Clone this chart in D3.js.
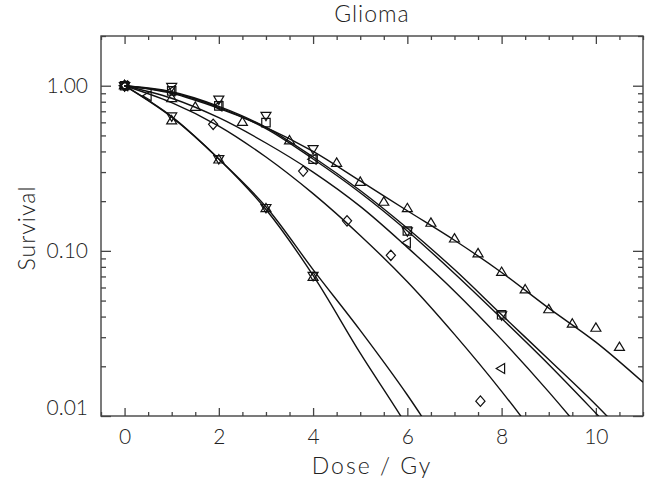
<!DOCTYPE html>
<html>
<head>
<meta charset="utf-8">
<script src="https://cdn.jsdelivr.net/npm/d3@7"></script>
<style>
body{margin:0;background:#fff}
text{font-family:Lato,"DejaVu Sans",sans-serif;font-weight:300;fill:#222}
</style>
</head>
<body>
<div id="chart"></div>
<script>

// measured points (dose Gy, surviving fraction), one series per marker
var doseUp = [0, 1, 1.5, 2.5, 3.5, 4.5, 5, 5.5, 6, 6.5, 7, 7.5, 8, 8.5, 9, 9.5, 10, 10.5]
var survUp = [1.0, 0.836, 0.74, 0.60, 0.463, 0.339, 0.26, 0.197, 0.18, 0.147, 0.118, 0.096, 0.074, 0.058, 0.044, 0.036, 0.034, 0.026]

var doseDown = [0, 1, 2, 3, 4, 6, 8]
var survDown = [1.0, 0.99, 0.83, 0.662, 0.416, 0.132, 0.041]

var doseSquare = [0, 1, 2, 3, 4, 6, 8]
var survSquare = [1.0, 0.93, 0.755, 0.598, 0.359, 0.132, 0.041]

var doseLeft = [0, 0.5, 1, 2, 4, 6, 8]
var survLeft = [1.0, 0.87, 0.93, 0.755, 0.359, 0.112, 0.0194]

var doseDiamond = [0, 1.88, 3.79, 4.72, 5.65, 7.55]
var survDiamond = [1.0, 0.584, 0.304, 0.152, 0.094, 0.0123]

var doseSteepDown = [0, 1, 2, 3, 4]
var survSteepDown = [1.0, 0.656, 0.362, 0.183, 0.071]

var doseSteepUp = [0, 1, 2, 3, 4]
var survSteepUp = [1.0, 0.612, 0.355, 0.18, 0.069]

// fitted curves at whole Gy
var fitDose = [0, 1, 2, 3, 4, 5, 6, 7, 8, 9, 10, 11]
var fitUp = [1, 0.90, 0.73, 0.56, 0.40, 0.265, 0.175, 0.116, 0.074, 0.045, 0.028, 0.016]
var fitDown = [1, 0.92, 0.75, 0.56, 0.37, 0.232, 0.137, 0.077, 0.041, 0.022, 0.0117, 0.0059]
var fitSquare = [1, 0.91, 0.74, 0.55, 0.36, 0.225, 0.132, 0.073, 0.039, 0.0205, 0.0104, 0.0052]
var fitLeft = [1, 0.84, 0.64, 0.45, 0.30, 0.186, 0.105, 0.057, 0.029, 0.014, 0.0064, 0.0028]
var fitDiamond = [1, 0.79, 0.57, 0.37, 0.222, 0.124, 0.065, 0.0312, 0.0141, 0.0059, 0.0022, 0.0008]
var fitSteepDown = [1, 0.645, 0.36, 0.178, 0.071, 0.024, 0.0086, 0.0026]
var fitSteepUp = [1, 0.65, 0.36, 0.185, 0.077, 0.033, 0.0134, 0.0049]

var xMajor = [0, 2, 4, 6, 8, 10]
var yMajor = [1, 0.1, 0.01]

var width = 645
var height = 481

var x = d3.scaleLinear().domain([-0.5, 11]).range([101, 643])
var y = d3.scaleLog().domain([0.01, 2]).range([416, 36])

var svg = d3.select("#chart")
  .append("svg")
  .attr("width", width)
  .attr("height", height)

svg.append("defs").append("clipPath")
  .attr("id", "plotclip")
  .append("rect")
  .attr("x", x.range()[0])
  .attr("y", y.range()[1])
  .attr("width", x.range()[1] - x.range()[0])
  .attr("height", y.range()[0] - y.range()[1])

// ticks: majors every 2 Gy, minors every 0.5 Gy; log minors 2..9 per decade
var xMinor = d3.range(-0.5, 11.01, 0.5).filter(function(v){ return xMajor.indexOf(v) < 0 })
var yMinor = []
;[0.01, 0.1, 1].forEach(function(dec){
  for (var k = 2; k <= 9; k++) {
    var v = +(dec * k).toPrecision(3)
    if (v <= 2 && v > 0.01) yMinor.push(v)
  }
})

function drawAxis(axis, tx, ty, cls){
  var g = svg.append("g")
    .attr("class", cls)
    .attr("transform", "translate(" + tx + "," + ty + ")")
    .call(axis)
  g.select(".domain").remove()
  g.selectAll("line").attr("stroke", "#444").attr("stroke-width", 1.3)
  return g
}

var bottom = drawAxis(d3.axisBottom(x).tickValues(xMajor).tickSize(-8).tickPadding(13).tickFormat(d3.format("d")), 0, 416, "xaxis")
bottom.selectAll("text").style("font-size", "21px")
drawAxis(d3.axisBottom(x).tickValues(xMinor).tickSize(-4).tickFormat(""), 0, 416, "xminor")
drawAxis(d3.axisTop(x).tickValues(xMajor).tickSize(-8).tickFormat(""), 0, 36, "xtop")
drawAxis(d3.axisTop(x).tickValues(xMinor).tickSize(-4).tickFormat(""), 0, 36, "xtopminor")

var left = drawAxis(d3.axisLeft(y).tickValues(yMajor).tickSize(-10).tickPadding(13).tickFormat(d3.format(".2f")), 101, 0, "yaxis")
left.selectAll("text").style("font-size", "21px")
  .attr("dy", function(d){ return d == 0.01 ? "-0.05em" : "0.32em" })
drawAxis(d3.axisLeft(y).tickValues(yMinor).tickSize(-5).tickFormat(""), 101, 0, "yminor")
drawAxis(d3.axisRight(y).tickValues(yMajor).tickSize(-10).tickFormat(""), 643, 0, "yright")
drawAxis(d3.axisRight(y).tickValues(yMinor).tickSize(-5).tickFormat(""), 643, 0, "yrightminor")

svg.append("rect")
  .attr("x", x.range()[0])
  .attr("y", y.range()[1])
  .attr("width", x.range()[1] - x.range()[0])
  .attr("height", y.range()[0] - y.range()[1])
  .attr("fill", "none")
  .attr("stroke", "#444")
  .attr("stroke-width", 1.4)

// fitted curves
var fits = [fitUp, fitDown, fitSquare, fitLeft, fitDiamond, fitSteepDown, fitSteepUp]
var line = d3.line()
  .x(function(d){ return x(d[0]) })
  .y(function(d){ return y(d[1]) })
  .curve(d3.curveCatmullRom.alpha(0.5))

svg.append("g")
  .attr("clip-path", "url(#plotclip)")
  .selectAll("path")
  .data(fits)
  .enter()
  .append("path")
  .attr("d", function(f){
    return line(f.map(function(v, i){ return [fitDose[i], v] }))
  })
  .attr("fill", "none")
  .attr("stroke", "#111")
  .attr("stroke-width", 1.4)

// marker shapes
function symbol(type){
  var h = 5
  if (type == "up") return "M0,-5.4L" + h + ",3L-" + h + ",3Z"
  if (type == "down") return "M0,5.4L" + h + ",-3L-" + h + ",-3Z"
  if (type == "left") return "M-5.4,0L3," + h + "L3,-" + h + "Z"
  if (type == "right") return "M5.4,0L-3," + h + "L-3,-" + h + "Z"
  if (type == "diamond") return "M0,-5.2L4.6,0L0,5.2L-4.6,0Z"
  return "M-4.2,-4.2L4.2,-4.2L4.2,4.2L-4.2,4.2Z"
}

var series = [
  {type: "up", dose: doseUp, surv: survUp},
  {type: "down", dose: doseDown, surv: survDown},
  {type: "square", dose: doseSquare, surv: survSquare},
  {type: "left", dose: doseLeft, surv: survLeft},
  {type: "diamond", dose: doseDiamond, surv: survDiamond},
  {type: "down", dose: doseSteepDown, surv: survSteepDown},
  {type: "up", dose: doseSteepUp, surv: survSteepUp}
]

series.forEach(function(s){
  svg.append("g")
    .selectAll("path")
    .data(s.dose.map(function(d, i){ return [d, s.surv[i]] }))
    .enter()
    .append("path")
    .attr("transform", function(d){ return "translate(" + x(d[0]) + "," + y(d[1]) + ")" })
    .attr("d", symbol(s.type))
    .attr("fill", "none")
    .attr("stroke", "#111")
    .attr("stroke-width", 1.2)
})

// titles
svg.append("text")
  .attr("x", 372)
  .attr("y", 22)
  .attr("text-anchor", "middle")
  .style("font-size", "23px")
  .style("letter-spacing", "1px")
  .text("Glioma")

svg.append("text")
  .attr("x", 372)
  .attr("y", 474)
  .attr("text-anchor", "middle")
  .style("font-size", "23px")
  .style("letter-spacing", "2px")
  .text("Dose / Gy")

svg.append("text")
  .attr("transform", "translate(35,228) rotate(-90)")
  .attr("text-anchor", "middle")
  .style("font-size", "23px")
  .style("letter-spacing", "1px")
  .text("Survival")

</script>
</body>
</html>
